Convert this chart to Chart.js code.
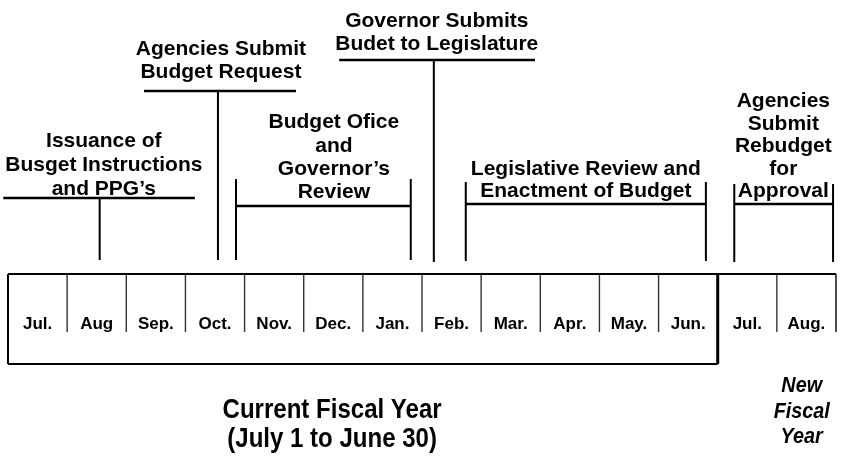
<!DOCTYPE html>
<html><head><meta charset="utf-8">
<script src="https://cdn.jsdelivr.net/npm/chart.js@4/dist/chart.umd.min.js"></script>
<style>html,body{margin:0;padding:0;background:#fff;}#wrap{width:841px;height:458px;position:relative;}</style>
</head><body><div id="wrap"><canvas id="c" width="841" height="458"></canvas></div>
<script>
// ---------- DATA ----------
const months = ['Jul.','Aug','Sep.','Oct.','Nov.','Dec.','Jan.','Feb.','Mar.','Apr.','May.','Jun.','Jul.','Aug.'];
const currentYearMonthCount = 12;
// Milestones (single point in time, in months from July 1)
const milestoneLabels = [["Issuance of","Busget Instructions","and PPG’s"],["Agencies Submit","Budget Request"],["Governor Submits","Budet to Legislature"]];
const milestoneMonth = [1.55, 3.55, 7.2];
const milestoneSpanStart = [-0.08, 2.30, 5.6];
const milestoneSpanEnd = [3.16, 4.87, 8.91];
// Periods (start / end in months from July 1)
const periodLabels = [["Budget Ofice","and","Governor’s","Review"],["Legislative Review and","Enactment of Budget"],["Agencies","Submit","Rebudget","for","Approval"]];
const periodStart = [3.855, 7.74, 12.28];
const periodEnd = [6.81, 11.80, 13.95];
const fiscalLabels = [["Current Fiscal Year","(July 1 to June 30)"],["New","Fiscal","Year"]];

// ---------- LAYOUT (positions / styles) ----------
const L = {
  xMin: -0.1353, xMax: 14.0845,
  boxTop: 274, boxBottom: 364, dividerBottom: 332, monthBaseline: 329,
  msUnderlineY: [198, 91, 60], msBottomY: [260, 260, 262],
  msBaselines: [[147,171,195],[55,78],[27,50]], msTextX: [1.62, 3.60, 7.25],
  pTopY: [179, 182, 184], pBottomY: [260, 261, 262], pBarY: [206, 204, 204],
  pBaselines: [[128,152,175,198],[175,197],[107,129.5,152,174.5,197]], pTextX: [5.51, 9.77, 13.11],
  fTextX: [5.48, 13.42], fBaselines: [[418,447],[392,418,443]]
};
const FONT = '"Liberation Sans", Arial, Helvetica, sans-serif';

// ---------- BUILD DATASETS ----------
const datasets = [];
function seg(points, width, color) {
  datasets.push({data: points, showLine: true, borderColor: color || '#000', borderWidth: width, pointRadius: 0, fill: false, tension: 0});
}
const n = months.length;
// box
seg([{x:0,y:L.boxTop},{x:n,y:L.boxTop}], 2);
seg([{x:0,y:L.boxTop},{x:0,y:L.boxBottom}], 2);
seg([{x:0,y:L.boxBottom},{x:currentYearMonthCount,y:L.boxBottom}], 2);
seg([{x:currentYearMonthCount,y:L.boxTop},{x:currentYearMonthCount,y:L.boxBottom}], 3);
seg([{x:n,y:L.boxTop},{x:n,y:L.dividerBottom}], 1.6, '#222');
for (let i = 1; i < n; i++) {
  if (i === currentYearMonthCount) continue;
  seg([{x:i,y:L.boxTop},{x:i,y:L.dividerBottom}], 1.4, '#333');
}
// milestones
milestoneMonth.forEach((m, i) => {
  seg([{x:milestoneSpanStart[i],y:L.msUnderlineY[i]},{x:milestoneSpanEnd[i],y:L.msUnderlineY[i]}], 2.5);
  seg([{x:m,y:L.msUnderlineY[i]},{x:m,y:L.msBottomY[i]}], 2);
});
// periods
periodStart.forEach((s, i) => {
  const e = periodEnd[i];
  seg([{x:s,y:L.pTopY[i]},{x:s,y:L.pBottomY[i]}], 2);
  seg([{x:e,y:L.pTopY[i]},{x:e,y:L.pBottomY[i]}], 2);
  seg([{x:s,y:L.pBarY[i]},{x:e,y:L.pBarY[i]}], 2.5);
});

// ---------- TEXT PLUGIN ----------
const textPlugin = {
  id: 'texts',
  afterDatasetsDraw(chart) {
    const ctx = chart.ctx, xs = chart.scales.x, ys = chart.scales.y;
    ctx.save();
    ctx.fillStyle = '#000';
    ctx.textAlign = 'center';
    ctx.textBaseline = 'alphabetic';
    // months
    ctx.font = 'bold 17px ' + FONT;
    months.forEach((m, i) => ctx.fillText(m, xs.getPixelForValue(i + 0.5), ys.getPixelForValue(L.monthBaseline)));
    // milestone & period labels
    ctx.font = 'bold 21px ' + FONT;
    milestoneLabels.forEach((lines, i) => lines.forEach((t, k) =>
      ctx.fillText(t, xs.getPixelForValue(L.msTextX[i]), ys.getPixelForValue(L.msBaselines[i][k]))));
    periodLabels.forEach((lines, i) => lines.forEach((t, k) =>
      ctx.fillText(t, xs.getPixelForValue(L.pTextX[i]), ys.getPixelForValue(L.pBaselines[i][k]))));
    // fiscal year labels (condensed)
    const drawCond = (t, x, y, font, sx) => {
      ctx.save(); ctx.translate(x, y); ctx.scale(sx, 1); ctx.font = font; ctx.fillText(t, 0, 0); ctx.restore();
    };
    fiscalLabels[0].forEach((t, k) => drawCond(t, xs.getPixelForValue(L.fTextX[0]), ys.getPixelForValue(L.fBaselines[0][k]), 'bold 27px ' + FONT, 0.89));
    fiscalLabels[1].forEach((t, k) => drawCond(t, xs.getPixelForValue(L.fTextX[1]), ys.getPixelForValue(L.fBaselines[1][k]), 'italic bold 22px ' + FONT, 0.9));
    ctx.restore();
  }
};

new Chart(document.getElementById('c'), {
  type: 'scatter',
  data: { datasets },
  options: {
    responsive: false, animation: false, events: [],
    layout: { padding: 0 },
    plugins: { legend: { display: false }, tooltip: { enabled: false } },
    scales: {
      x: { type: 'linear', min: L.xMin, max: L.xMax, display: false },
      y: { type: 'linear', min: 0, max: 458, reverse: true, display: false }
    }
  },
  plugins: [textPlugin]
});
</script>
</body></html>
